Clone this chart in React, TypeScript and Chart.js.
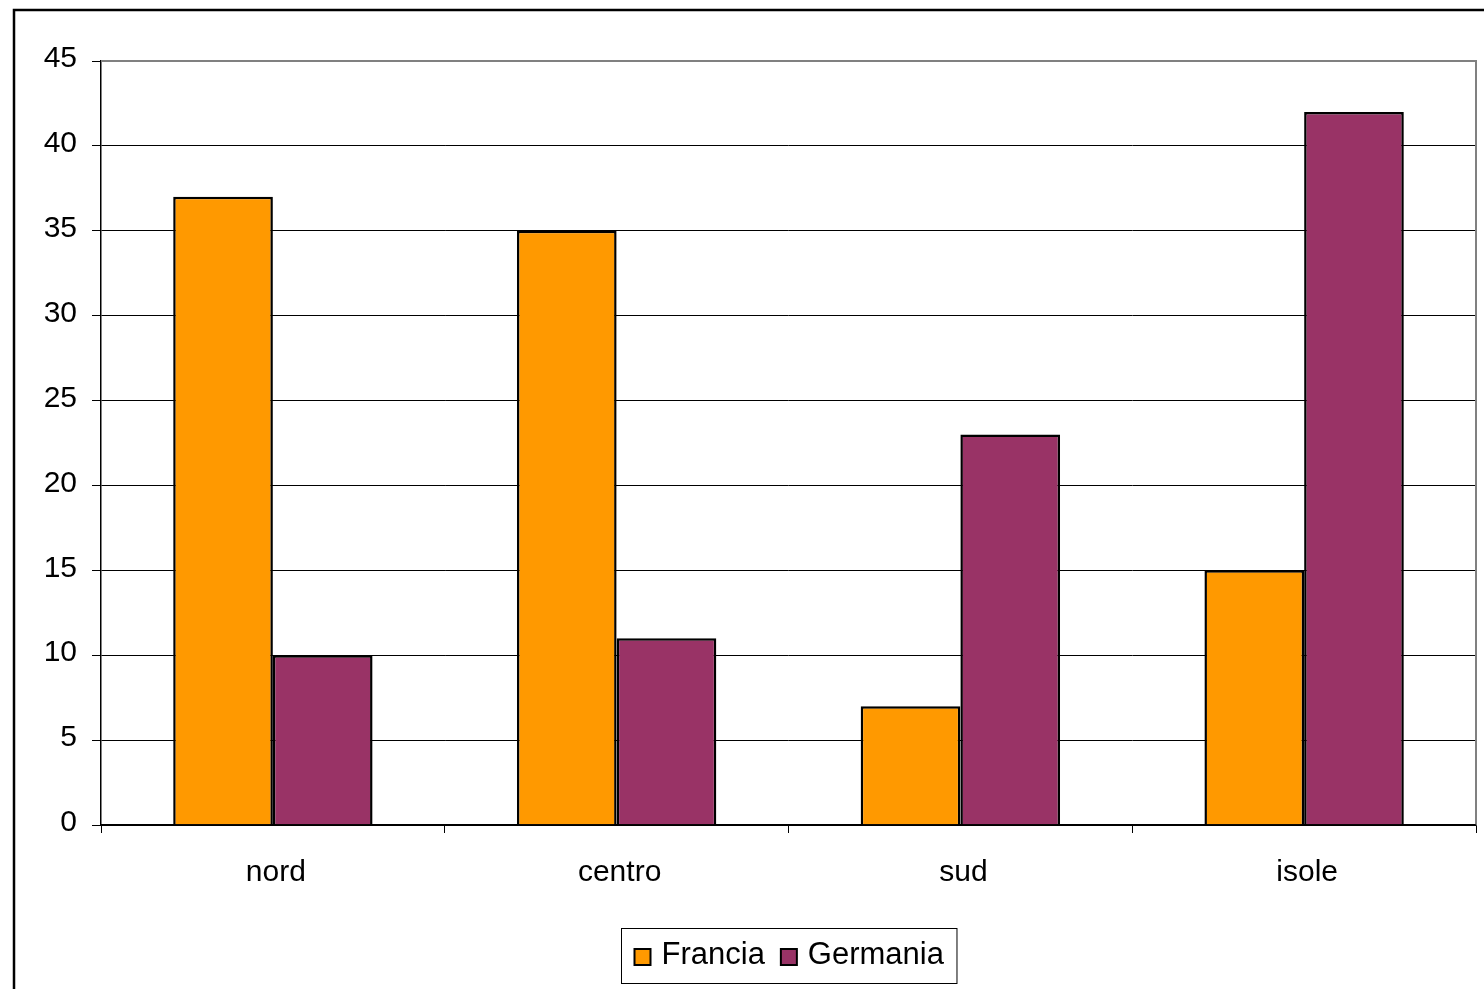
import React, { useEffect, useRef } from "react";
import { Chart, registerables } from "chart.js";

Chart.register(...registerables);

const categories = ["nord", "centro", "sud", "isole"];
const francia = [37, 35, 7, 15];
const germania = [10, 11, 23, 42];
const seriesNames = ["Francia", "Germania"];
const seriesColors = ["#FF9900", "#993366"];
const yTicks = [0, 5, 10, 15, 20, 25, 30, 35, 40, 45];

const FONT = "'Liberation Sans', Arial, sans-serif";

const framePlugin = {
  id: "frame",
  beforeDraw(chart: any) {
    const ctx = chart.ctx;
    ctx.save();
    ctx.fillStyle = "#ffffff";
    ctx.fillRect(0, 0, chart.width, chart.height);
    // outer frame (left and top visible)
    ctx.strokeStyle = "#000000";
    ctx.lineWidth = 2.5;
    ctx.beginPath();
    ctx.moveTo(14, chart.height + 5);
    ctx.lineTo(14, 10);
    ctx.lineTo(chart.width + 5, 10);
    ctx.stroke();
    ctx.restore();
  },
  afterDatasetsDraw(chart: any) {
    const ctx = chart.ctx;
    const a = chart.chartArea;
    ctx.save();
    ctx.strokeStyle = "#808080";
    ctx.lineWidth = 2;
    ctx.beginPath();
    ctx.moveTo(a.left, a.top);
    ctx.lineTo(a.right, a.top);
    ctx.lineTo(a.right, a.bottom);
    ctx.stroke();
    ctx.strokeStyle = "#000000";
    ctx.lineWidth = 1.5;
    ctx.beginPath();
    ctx.moveTo(a.left, a.bottom);
    ctx.lineTo(a.right, a.bottom);
    ctx.stroke();
    ctx.restore();
  },
  afterDraw(chart: any) {
    const ctx = chart.ctx;
    const a = chart.chartArea;
    ctx.save();
    ctx.font = `31px ${FONT}`;
    const sq = 16;
    const gapText = 11;
    const gapItem = 16;
    const widths = seriesNames.map((n) => ctx.measureText(n).width);
    const content =
      widths.reduce((s, w) => s + sq + gapText + w, 0) + gapItem * (seriesNames.length - 1);
    const padX = 13;
    const boxW = content + padX * 2;
    const boxH = 55;
    const cx = (a.left + a.right) / 2;
    const boxX = Math.round(cx - boxW / 2) + 0.5;
    const boxY = 928.5;
    ctx.fillStyle = "#ffffff";
    ctx.fillRect(boxX, boxY, boxW, boxH);
    ctx.strokeStyle = "#000000";
    ctx.lineWidth = 1;
    ctx.strokeRect(boxX, boxY, boxW, boxH);
    let x = boxX + padX;
    const cy = boxY + boxH / 2;
    seriesNames.forEach((n, i) => {
      ctx.fillStyle = seriesColors[i];
      ctx.fillRect(x, cy - sq / 2 + 1, sq, sq);
      ctx.lineWidth = 2;
      ctx.strokeStyle = "#000000";
      ctx.strokeRect(x, cy - sq / 2 + 1, sq, sq);
      x += sq + gapText;
      ctx.fillStyle = "#000000";
      ctx.textBaseline = "middle";
      ctx.textAlign = "left";
      ctx.fillText(n, x, cy - 1);
      x += widths[i] + gapItem;
    });
    ctx.restore();
  },
};

export default function App() {
  const ref = useRef<HTMLCanvasElement>(null);
  useEffect(() => {
    if (!ref.current) return;
    const chart = new Chart(ref.current, {
      type: "bar",
      data: {
        labels: categories,
        datasets: [
          {
            label: seriesNames[0],
            data: francia,
            backgroundColor: seriesColors[0],
            borderColor: "#000000",
            borderWidth: 2.5,
            categoryPercentage: 0.58,
            barPercentage: 1,
          },
          {
            label: seriesNames[1],
            data: germania,
            backgroundColor: seriesColors[1],
            borderColor: "#000000",
            borderWidth: 2.5,
            categoryPercentage: 0.58,
            barPercentage: 1,
          },
        ],
      },
      options: {
        animation: false,
        responsive: false,
        maintainAspectRatio: false,
        layout: { padding: { top: 61, right: 8, bottom: 100, left: 0 } },
        plugins: {
          legend: { display: false },
          tooltip: { enabled: false },
        },
        scales: {
          x: {
            grid: {
              display: true,
              drawOnChartArea: false,
              drawTicks: true,
              tickLength: 8,
              color: "#000000",
              lineWidth: 1,
              offset: true,
            },
            border: { display: true, color: "#000000", width: 1.5 },
            ticks: {
              color: "#000000",
              font: { family: FONT, size: 30 },
              padding: 22,
              labelOffset: 3,
            },
            afterFit(scale: any) {
              scale.height = 64;
            },
          },
          y: {
            min: 0,
            max: 45,
            afterBuildTicks(scale: any) {
              scale.ticks = yTicks.map((v) => ({ value: v }));
            },
            grid: {
              color: "#000000",
              lineWidth: 1,
              tickLength: 9,
            },
            border: { display: true, color: "#000000", width: 1.5 },
            ticks: {
              color: "#000000",
              font: { family: FONT, size: 30 },
              padding: 15,
              labelOffset: -2,
            },
            afterFit(scale: any) {
              scale.width = 101;
            },
          },
        },
      },
      plugins: [framePlugin],
    });
    return () => chart.destroy();
  }, []);
  return (
    <div style={{ position: "absolute", left: 0, top: 0, width: 1484, height: 989 }}>
      <canvas ref={ref} width={1484} height={989} style={{ display: "block" }} />
    </div>
  );
}
